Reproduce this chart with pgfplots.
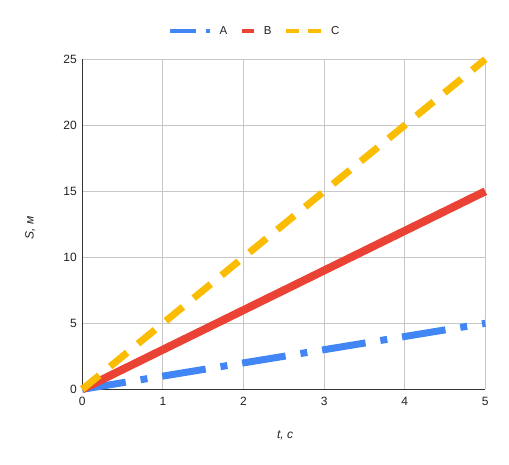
\documentclass[border=0pt]{standalone}
\usepackage{pgfplots}
\pgfplotsset{compat=1.18}
\usepackage{fontspec}
\setmainfont{Liberation Sans}
\definecolor{gblue}{HTML}{4285F4}
\definecolor{gred}{HTML}{EA4335}
\definecolor{gyellow}{HTML}{FBBC04}
\definecolor{labc}{HTML}{222222}
\begin{document}
\begin{tikzpicture}
\useasboundingbox (-82.3bp,-75.7bp) rectangle (426.7bp,389.3bp);
\begin{axis}[
  at={(0,0)}, anchor=south west,
  scale only axis, width=403bp, height=330bp,
  xmin=0, xmax=5, ymin=0, ymax=25,
  xtick={0,1,2,3,4,5}, ytick={0,5,10,15,20,25},
  clip=false,
  axis x line*=bottom, axis y line*=left,
  axis line style={-, draw=black!80, line width=1bp},
  every outer x axis line/.append style={-},
  every outer y axis line/.append style={-},
  grid=major, grid style={draw=black!22, line width=0.9bp},
  major tick length=0pt,
  /pgf/number format/assume math mode=true,
  tick label style={font=\fontsize{12bp}{14bp}\selectfont, text=labc},
  xticklabel style={yshift=-4bp},
  yticklabel style={xshift=-2bp},
  xlabel={\textit{t, c}},
  ylabel={\textit{S, м}},
  label style={font=\fontsize{12bp}{14bp}\selectfont, text=labc},
  xlabel style={at={(axis description cs:0.503,-0.139)}, anchor=center},
  ylabel style={at={(axis description cs:-0.129,0.49)}, anchor=center, rotate=0},
  legend style={at={(axis description cs:0.4255,1.085)}, anchor=center,
    draw=none, fill=none, legend columns=3,
    font=\fontsize{11.5bp}{13bp}\selectfont, text=labc,
    nodes={inner xsep=0bp, inner ysep=2bp},
    /tikz/every odd column/.append style={column sep=8bp},
    /tikz/every even column/.append style={column sep=13bp},
    inner sep=0pt},
]
\addplot[color=gblue, line width=7bp, dash pattern=on 44bp off 15bp on 7bp off 15bp,
  legend image code/.code={
    \draw[solid, line width=3.5bp, gblue] (0bp,0bp) -- (26bp,0bp);
    \draw[solid, line width=3.5bp, gblue] (36bp,0bp) -- (40bp,0bp);}]
  coordinates {(0,0) (1,1) (2,2) (3,3) (4,4) (5,5)};
\addlegendentry{A}
\addplot[color=gred, line width=8bp, solid,
  legend image code/.code={
    \draw[solid, line width=3.5bp, gred] (0bp,0bp) -- (12bp,0bp);}]
  coordinates {(0,0) (1,3) (2,6) (3,9) (4,12) (5,15)};
\addlegendentry{B}
\addplot[color=gyellow, line width=7bp, dash pattern=on 22bp off 14bp,
  legend image code/.code={
    \draw[solid, line width=3.5bp, gyellow] (0bp,0bp) -- (13bp,0bp);
    \draw[solid, line width=3.5bp, gyellow] (22bp,0bp) -- (35bp,0bp);}]
  coordinates {(0,0) (1,5) (2,10) (3,15) (4,20) (5,25)};
\addlegendentry{C}
\end{axis}
\end{tikzpicture}
\end{document}
